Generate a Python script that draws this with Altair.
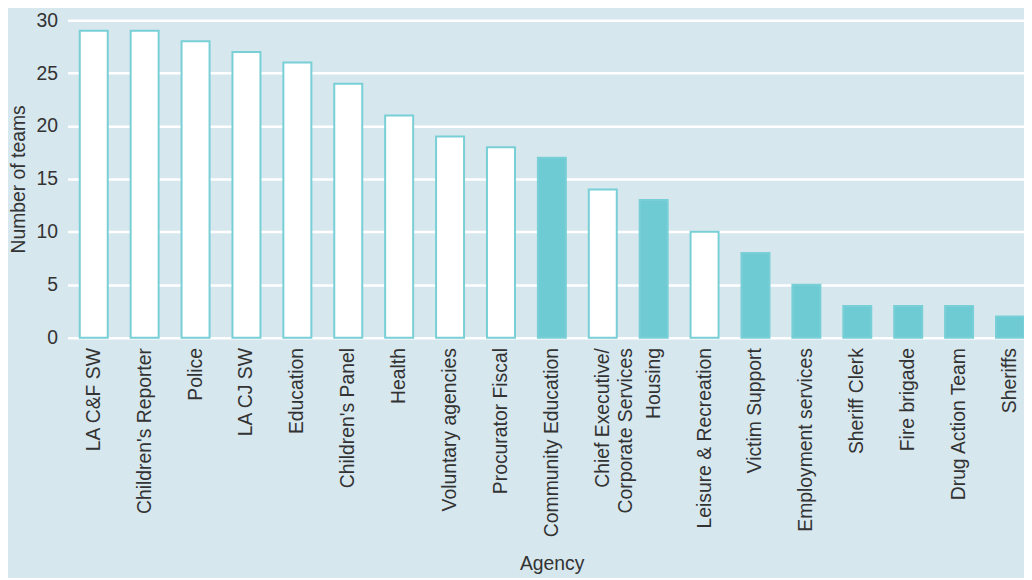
import altair as alt
import pandas as pd

agencies = ["LA C&F SW", "Children's Reporter", "Police", "LA CJ SW", "Education",
            "Children's Panel", "Health", "Voluntary agencies", "Procurator Fiscal",
            "Community Education", "Chief Executive/|Corporate Services", "Housing",
            "Leisure & Recreation", "Victim Support", "Employment services",
            "Sheriff Clerk", "Fire brigade", "Drug Action Team", "Sheriffs"]
teams = [29, 29, 28, 27, 26, 24, 21, 19, 18, 17, 14, 13, 10, 8, 5, 3, 3, 3, 2]
kind = ["open", "open", "open", "open", "open", "open", "open", "open", "open",
        "filled", "open", "filled", "open", "filled", "filled",
        "filled", "filled", "filled", "filled"]

df = pd.DataFrame({"agency": agencies, "teams": teams, "kind": kind})

BG = "#d7e7ee"
TEAL = "#6fcbd3"
FONT = "Liberation Sans"

chart = alt.Chart(df).mark_bar(stroke="#78cfd6", strokeWidth=2).encode(
    x=alt.X("agency:N", sort=agencies,
            scale=alt.Scale(paddingInner=0.45, paddingOuter=0.12, align=1),
            axis=alt.Axis(title="Agency", labelAngle=-90, labelAlign="right",
                          labelBaseline="middle", labelPadding=10,
                          labelExpr="split(datum.label, '|')",
                          labelLineHeight=23, labelLimit=400,
                          ticks=False, domain=False, grid=False,
                          titleX=488, titleY=234, titleBaseline="alphabetic")),
    y=alt.Y("teams:Q", scale=alt.Scale(domain=[0, 30]),
            axis=alt.Axis(title="Number of teams", values=[0, 5, 10, 15, 20, 25, 30],
                          ticks=False, domain=False, grid=True,
                          gridColor="white", gridWidth=2.5, gridOpacity=1,
                          labelPadding=10, titlePadding=8)),
    fill=alt.Fill("kind:N", scale=alt.Scale(domain=["open", "filled"], range=["white", TEAL]),
                  legend=None),
).properties(
    width=964, height=320,
    background=BG,
    padding={"left": 60, "top": 10, "right": 0, "bottom": 240},
    autosize=alt.AutoSizeParams(type="none"),
).configure_view(
    stroke=None, fill=BG
).configure_axis(
    labelFont=FONT, titleFont=FONT, labelFontSize=19.5, titleFontSize=19.5,
    labelColor="#333333", titleColor="#333333", titleFontWeight="normal",
    labelOverlap=False, labelBound=False, labelFlush=False,
)

chart.save("out.html", embed_options={"renderer": "svg", "actions": False})
